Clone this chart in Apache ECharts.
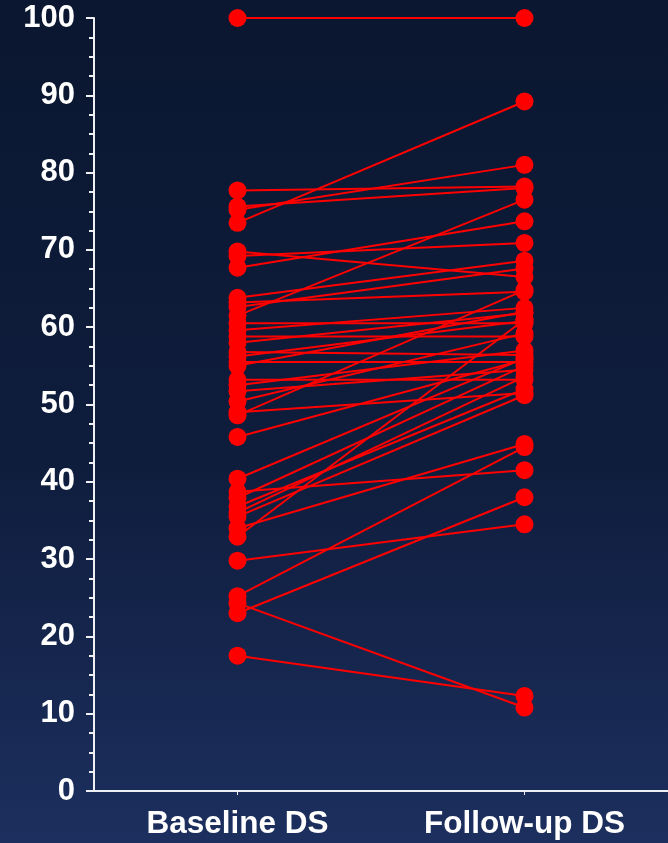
<!DOCTYPE html>
<html>
<head>
<meta charset="utf-8">
<script src="https://cdn.jsdelivr.net/npm/echarts@6/dist/echarts.min.js"></script>
<style>
  html, body { margin: 0; padding: 0; background: #0c1830; }
  #chart { width: 668px; height: 843px; }
</style>
</head>
<body>
<div id="chart"></div>
<script>
// Paired diameter-stenosis values (%) per lesion: baseline vs follow-up
const categories = ['Baseline DS', 'Follow-up DS'];
const baseline = [
  100, 77.7, 75.6, 75.2, 73.5, 69.8, 69.2, 67.7, 63.8, 63.2,
  62.6, 61.5, 60.5, 59.6, 58.8, 58.0, 56.8, 56.2, 55.5, 55.0,
  53.2, 52.5, 51.7, 50.4, 49.0, 48.6, 45.8, 40.4, 38.7, 37.9,
  36.8, 36.0, 35.5, 34.0, 32.9, 29.8, 25.2, 24.3, 23.0, 17.5
];
const followUp = [
  100, 78.2, 78.0, 81.0, 89.2, 66.5, 70.9, 73.7, 68.6, 64.6,
  67.6, 76.5, 60.5, 62.5, 58.8, 61.8, 56.4, 60.8, 55.5, 62.0,
  53.2, 57.0, 54.5, 59.2, 51.5, 64.8, 55.8, 56.0, 41.5, 55.0,
  52.0, 53.6, 51.2, 44.9, 61.0, 34.5, 44.5, 10.8, 38.0, 12.3
];
const yMin = 0, yMax = 100, yStep = 10;

const axisColor = '#eef0f4';
const fontFamily = '"Liberation Sans", Arial, sans-serif';

// one line per lesion, joining its two measurements
const series = baseline.map((b, i) => ({
  type: 'line',
  data: [b, followUp[i]],
  symbol: 'circle',
  symbolSize: 18,
  clip: false,
  silent: true,
  animation: false,
  itemStyle: { color: '#ff0000' },
  lineStyle: { color: '#ff0000', width: 2 },
  z: 3
}));

const chart = echarts.init(document.getElementById('chart'), null, { renderer: 'canvas' });
chart.setOption({
  animation: false,
  backgroundColor: new echarts.graphic.LinearGradient(0, 0, 0, 1, [
    { offset: 0, color: '#0b1730' },
    { offset: 0.55, color: '#0f1d3d' },
    { offset: 1, color: '#1c2f5e' }
  ]),
  grid: { left: 94, top: 18, width: 576, height: 773, containLabel: false },
  xAxis: {
    type: 'category',
    data: categories,
    boundaryGap: true,
    axisLine: { show: true, lineStyle: { color: axisColor, width: 2 } },
    axisTick: { show: true, alignWithLabel: true, length: 4, lineStyle: { color: axisColor, width: 1 } },
    axisLabel: {
      color: '#ffffff', fontSize: 31.5, fontWeight: 'bold', fontFamily: fontFamily, margin: 17
    },
    splitLine: { show: false }
  },
  yAxis: {
    type: 'value',
    min: yMin, max: yMax, interval: yStep,
    axisLine: { show: true, onZero: false, lineStyle: { color: axisColor, width: 2 } },
    axisTick: { show: true, length: 8, lineStyle: { color: axisColor, width: 2 } },
    minorTick: { show: true, splitNumber: 4, length: 5, lineStyle: { color: axisColor, width: 2 } },
    axisLabel: {
      color: '#ffffff', fontSize: 31, fontWeight: 'bold', fontFamily: fontFamily, margin: 19,
      padding: [8, 0, 0, 0]
    },
    splitLine: { show: false },
    minorSplitLine: { show: false }
  },
  series: series
});
</script>
</body>
</html>
